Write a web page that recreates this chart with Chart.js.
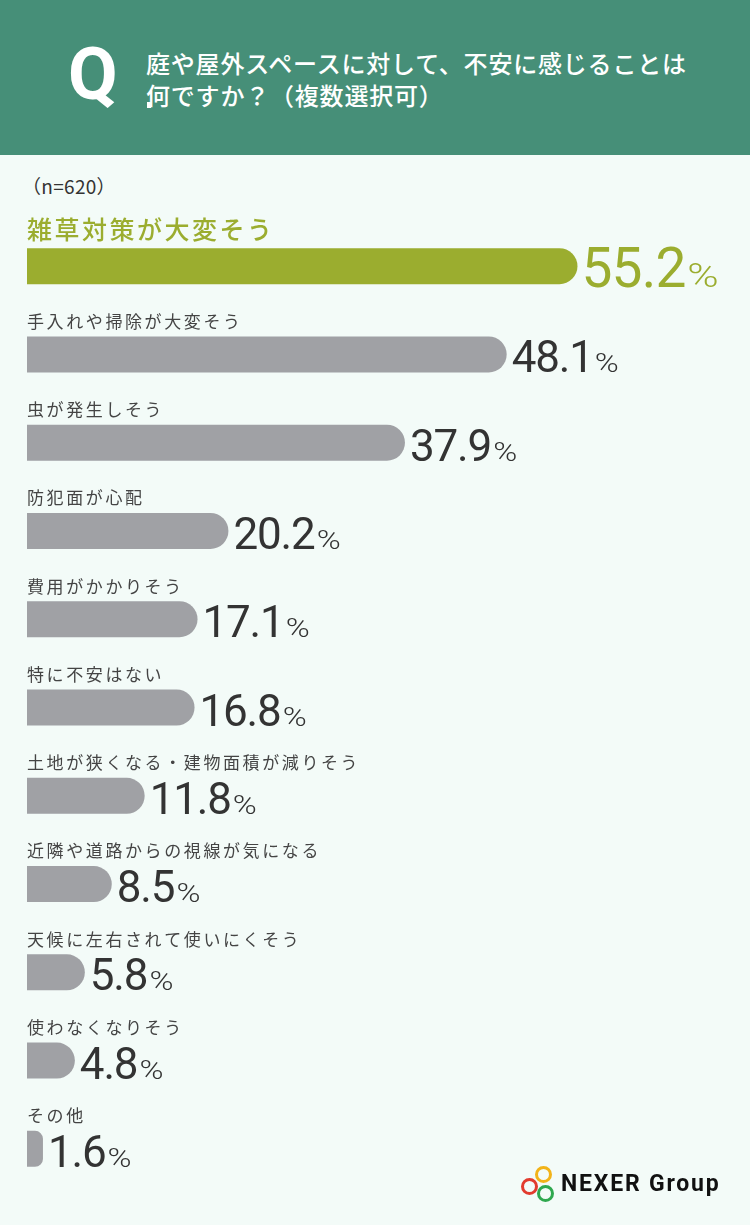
<!DOCTYPE html>
<html lang="ja">
<head>
<meta charset="utf-8">
<script src="https://cdn.jsdelivr.net/npm/chart.js@4.4.1/dist/chart.umd.min.js"></script>
<style>
html,body{margin:0;padding:0;width:750px;height:1225px;background:#F3FBF8;overflow:hidden;}
#header{position:absolute;left:0;top:0;width:750px;height:155px;background:#468F78;}
#q{position:absolute;left:68px;top:39px;font:700 72px/72px Roboto,sans-serif;color:#fff;}
#title{position:absolute;left:146px;top:47px;font:500 24px/32px "Noto Sans CJK JP",sans-serif;color:#fff;letter-spacing:0.8px;white-space:nowrap;}
#dot{position:absolute;left:147px;top:102px;width:4px;height:6px;background:#fff;}
#n{position:absolute;left:22px;top:173px;font:400 19px/26px "Noto Sans CJK JP",sans-serif;color:#333;white-space:nowrap;letter-spacing:0.3px;}
#c{position:absolute;left:0;top:0;}
.ring{position:absolute;width:11px;height:11px;border-radius:50%;border:3px solid;}
#logo{position:absolute;left:561px;top:1169px;font:700 23px/30px Roboto,sans-serif;color:#111;letter-spacing:1.8px;white-space:nowrap;}
</style>
</head>
<body>
<div id="header">
  <div id="q">Q</div>
  <div id="title">庭や屋外スペースに対して、不安に感じることは<br>何ですか？（複数選択可）</div>
  <div id="dot"></div>
</div>
<div id="n">（n=620）</div>
<canvas id="c" width="750" height="1225"></canvas>
<div class="ring" style="left:535px;top:1166px;border-color:#F2B319;"></div>
<div class="ring" style="left:521px;top:1178px;border-color:#E23B2E;"></div>
<div class="ring" style="left:537px;top:1185px;border-color:#2FA84F;"></div>
<div id="logo">NEXER Group</div>
<script>
const categories = [
  "雑草対策が大変そう",
  "手入れや掃除が大変そう",
  "虫が発生しそう",
  "防犯面が心配",
  "費用がかかりそう",
  "特に不安はない",
  "土地が狭くなる・建物面積が減りそう",
  "近隣や道路からの視線が気になる",
  "天候に左右されて使いにくそう",
  "使わなくなりそう",
  "その他"
];
const values = [55.2, 48.1, 37.9, 20.2, 17.1, 16.8, 11.8, 8.5, 5.8, 4.8, 1.6];

const HIGHLIGHT = "#9BAD2F";
const GRAY = "#A0A1A5";
const barColors = values.map((v, i) => i === 0 ? HIGHLIGHT : GRAY);

function spacedText(ctx, text, x, y, spacing) {
  let cx = x;
  for (const ch of text) {
    ctx.fillText(ch, cx, y);
    cx += ctx.measureText(ch).width + spacing;
  }
  return cx - spacing;
}

const labelPlugin = {
  id: "barLabels",
  afterDatasetsDraw(chart) {
    const ctx = chart.ctx;
    const meta = chart.getDatasetMeta(0);
    meta.data.forEach((bar, i) => {
      const p = bar.getProps(["x", "y", "base", "height"], true);
      const top = p.y - p.height / 2;
      const bottom = p.y + p.height / 2;
      ctx.save();
      ctx.textAlign = "left";
      // category label above the bar
      ctx.textBaseline = "middle";
      if (i === 0) {
        ctx.font = '500 25px "Noto Sans CJK JP", sans-serif';
        ctx.fillStyle = HIGHLIGHT;
        spacedText(ctx, chart.data.labels[i], p.base, top - 19, 2.5);
      } else {
        ctx.font = '400 17px "Noto Sans CJK JP", sans-serif';
        ctx.fillStyle = "#444";
        spacedText(ctx, chart.data.labels[i], p.base, top - 15, 2.6);
      }
      // value label right of the bar
      ctx.textBaseline = "alphabetic";
      const numStr = values[i].toFixed(1);
      const big = i === 0;
      ctx.fillStyle = big ? HIGHLIGHT : "#333";
      ctx.font = big ? '400 55px Roboto, sans-serif' : '400 44px Roboto, sans-serif';
      const nx = p.x + (big ? 4 : 5);
      const ny = bottom + (big ? 3 : 0);
      const end = spacedText(ctx, numStr, nx, ny, big ? -0.8 : -1.2);
      ctx.font = big ? '300 34px Roboto, sans-serif' : '300 25px Roboto, sans-serif';
      const sx = big ? 1.25 : 1.3;
      ctx.save();
      ctx.translate(end + 1, ny);
      ctx.scale(sx, 1);
      ctx.fillText("%", 0, 0);
      ctx.restore();
      ctx.restore();
    });
  }
};

new Chart(document.getElementById("c"), {
  type: "bar",
  data: {
    labels: categories,
    datasets: [{
      data: values,
      backgroundColor: barColors,
      borderWidth: 0,
      borderSkipped: false,
      borderRadius: { topLeft: 0, bottomLeft: 0, topRight: 18, bottomRight: 18 },
      barPercentage: 0.408,
      categoryPercentage: 1.0
    }]
  },
  options: {
    indexAxis: "y",
    responsive: false,
    animation: false,
    layout: { padding: { left: 27, right: 0, top: 222, bottom: 32 } },
    plugins: { legend: { display: false }, tooltip: { enabled: false } },
    scales: {
      x: { display: false, min: 0, max: 72.5 },
      y: { display: false }
    }
  },
  plugins: [labelPlugin]
});
</script>
</body>
</html>
